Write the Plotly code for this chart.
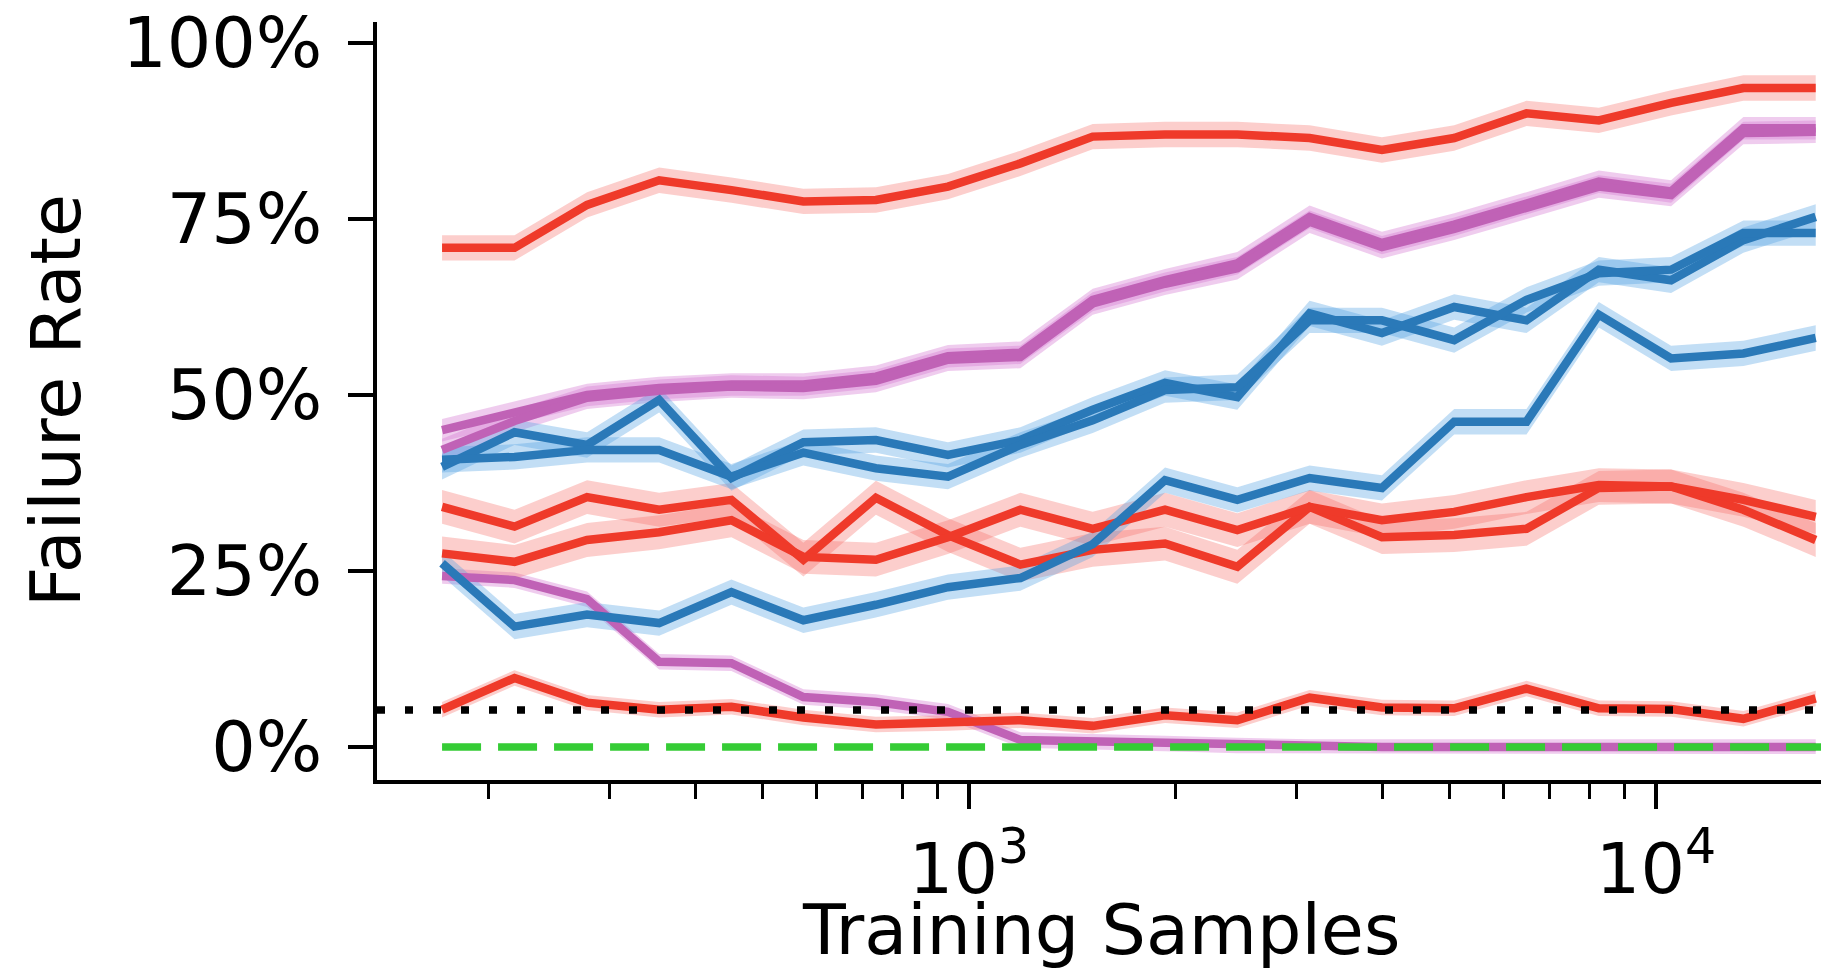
import plotly.graph_objects as go

# Training-set sizes (log-spaced)
samples = [171, 218, 278, 354, 451, 574, 732, 932, 1188, 1514,
           1929, 2458, 3132, 3991, 5085, 6479, 8256, 10520, 13404, 17081]

# Failure rates (%) per method
red_top = [70.9, 70.9, 77.0, 80.5, 79.1, 77.5, 77.7, 79.6, 82.9, 86.7,
           87.0, 87.0, 86.5, 84.8, 86.5, 90.0, 89.0, 91.5, 93.6, 93.6]
red_mid_a = [34.1, 31.3, 35.5, 33.7, 35.1, 26.6, 35.4, 30.1, 25.9, 28.0,
             28.9, 25.6, 34.1, 29.8, 30.1, 31.0, 36.8, 37.0, 33.7, 29.4]
red_mid_b = [27.5, 26.3, 29.4, 30.5, 32.2, 27.0, 26.6, 29.8, 33.7, 31.0,
             33.7, 30.8, 34.1, 32.2, 33.4, 35.5, 37.2, 37.0, 35.1, 32.7]
red_low = [5.3, 9.8, 6.3, 5.3, 5.7, 4.2, 3.2, 3.4, 3.8, 3.0,
           4.5, 3.8, 7.0, 5.6, 5.5, 8.3, 5.5, 5.4, 4.0, 6.9]

blue_a = [39.8, 44.7, 42.9, 49.3, 38.2, 43.3, 43.6, 41.5, 43.6, 47.9,
          51.7, 49.7, 61.6, 58.8, 62.5, 60.6, 67.8, 66.3, 72.0, 75.3]
blue_b = [40.8, 41.2, 42.2, 42.2, 38.4, 41.8, 39.6, 38.4, 42.9, 46.4,
          50.7, 51.1, 60.6, 60.6, 57.8, 63.5, 67.3, 67.8, 73.0, 73.0]
blue_c = [26.1, 17.1, 18.8, 17.6, 22.0, 18.0, 20.2, 22.7, 24.0, 28.8,
          37.9, 35.1, 38.2, 36.8, 46.2, 46.2, 61.4, 55.2, 55.9, 58.1]

purple_a = [45.0, 47.5, 50.0, 51.0, 51.5, 51.5, 52.6, 55.5, 56.0, 63.5,
            66.3, 68.7, 75.3, 71.6, 74.2, 77.2, 80.3, 78.9, 87.9, 87.9]
purple_b = [42.2, 46.3, 49.6, 50.6, 51.2, 51.0, 52.0, 55.0, 55.4, 63.0,
            65.8, 68.0, 74.6, 71.0, 73.6, 76.6, 79.6, 78.4, 87.2, 87.4]
purple_c = [24.3, 23.7, 21.0, 12.1, 11.9, 7.1, 6.4, 5.0, 1.0, 0.8,
            0.5, 0.2, 0.0, 0.0, 0.0, 0.0, 0.0, 0.0, 0.0, 0.0]

chance_level = 5.25
ideal_level = 0.0

RED, RED_BAND = "#ef3a2a", "rgba(246,105,100,0.33)"
BLUE, BLUE_BAND = "#2a79b8", "rgba(80,160,225,0.35)"
PURPLE, PURPLE_BAND = "#c062b6", "rgba(212,120,210,0.38)"

# (values, line colour, band colour, band half-width in %)
series = [
    (purple_a, PURPLE, PURPLE_BAND, 1.6),
    (purple_b, PURPLE, PURPLE_BAND, 1.6),
    (purple_c, PURPLE, PURPLE_BAND, 1.1),
    (red_top, RED, RED_BAND, 1.8),
    (red_mid_a, RED, RED_BAND, 2.4),
    (red_mid_b, RED, RED_BAND, 2.4),
    (red_low, RED, RED_BAND, 1.1),
    (blue_a, BLUE, BLUE_BAND, 1.8),
    (blue_b, BLUE, BLUE_BAND, 1.8),
    (blue_c, BLUE, BLUE_BAND, 1.8),
]

fig = go.Figure()

for vals, col, band, hw in series:
    hi = [v + hw for v in vals]
    lo = [max(v - hw, -1.0) for v in vals]
    fig.add_trace(go.Scatter(
        x=samples + samples[::-1], y=hi + lo[::-1],
        fill="toself", fillcolor=band, line=dict(width=0),
        mode="lines", hoverinfo="skip", showlegend=False))

for vals, col, band, hw in series:
    fig.add_trace(go.Scatter(
        x=samples, y=vals, mode="lines",
        line=dict(color=col, width=8.5), showlegend=False))

# ideal (0%) reference
fig.add_trace(go.Scatter(
    x=[samples[0], samples[-1] * 1.1], y=[ideal_level, ideal_level], mode="lines",
    line=dict(color="#35cc35", width=7.5, dash="39px,17px"), showlegend=False))

# chance-level reference across the whole axis
fig.add_shape(type="line", xref="paper", x0=0, x1=1, yref="y",
              y0=chance_level, y1=chance_level,
              line=dict(color="black", width=7.5, dash="8px,20px"))

FONT = "DejaVu Sans"
x_lo, x_hi = 2.1383, 4.2402
minor_vals = [m * 10 ** e for e in (2, 3, 4) for m in range(2, 10)]

fig.update_layout(
    width=1821, height=974,
    margin=dict(l=377, r=0, t=22, b=194),
    plot_bgcolor="white", paper_bgcolor="white",
    showlegend=False,
    font=dict(family=FONT, size=70, color="black"),
    xaxis=dict(
        type="log", range=[x_lo, x_hi],
        showline=True, linecolor="black", linewidth=3.5,
        showgrid=False, zeroline=False,
        ticks="outside", ticklen=25, tickwidth=3.5, tickcolor="black",
        tickvals=[1000, 10000],
        ticktext=["10<sup>3</sup>", "10<sup>4</sup>"],
        tickfont=dict(family=FONT, size=70, color="black"),
        minor=dict(ticks="outside", ticklen=15, tickwidth=3, tickcolor="black",
                   tickvals=minor_vals, showgrid=False),
    ),
    yaxis=dict(
        range=[-4.69, 102.98],
        showline=True, linecolor="black", linewidth=3.5,
        showgrid=False, zeroline=False,
        ticks="outside", ticklen=25, tickwidth=3.5, tickcolor="black",
        ticklabelstandoff=12,
        tickvals=[0, 25, 50, 75, 100],
        ticktext=["0%", "25%", "50%", "75%", "100%"],
        tickfont=dict(family=FONT, size=70, color="black"),
    ),
    annotations=[
        dict(text="Failure Rate", xref="paper", yref="paper",
             x=(56 - 377) / 1444, y=0.5, textangle=-90, showarrow=False,
             xanchor="center", yanchor="middle",
             font=dict(family=FONT, size=70, color="black")),
        dict(text="Training Samples", xref="paper", yref="paper",
             x=(1101 - 377) / 1444, y=(780 - 930) / 758, showarrow=False,
             xanchor="center", yanchor="middle",
             font=dict(family=FONT, size=70, color="black")),
    ],
)

fig.write_html("out.html")
